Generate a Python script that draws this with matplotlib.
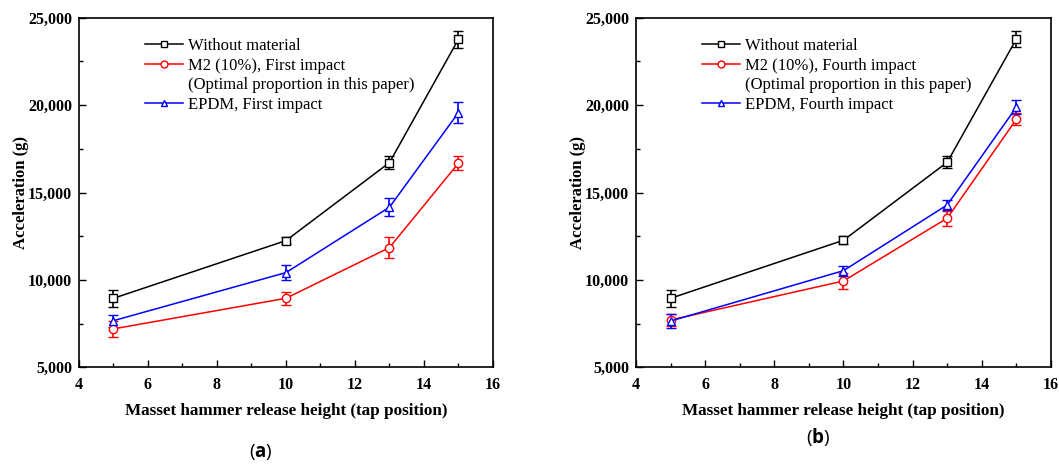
import matplotlib
matplotlib.use("Agg")
import matplotlib.pyplot as plt
from matplotlib.lines import Line2D
from matplotlib.ticker import MultipleLocator, FuncFormatter

plt.rcParams["mathtext.fontset"] = "custom"
plt.rcParams["mathtext.rm"] = "Open Sans"
plt.rcParams["mathtext.bf"] = "Open Sans:bold"

heights = [5, 10, 13, 15]

# Panel (a)
a_without = [8950, 12250, 16710, 23770]
a_without_err = [500, 220, 350, 480]
a_m2 = [7200, 8950, 11850, 16680]
a_m2_err = [440, 380, 590, 400]
a_epdm = [7670, 10420, 14160, 19570]
a_epdm_err = [350, 410, 530, 590]

# Panel (b)
b_without = [8950, 12270, 16730, 23780]
b_without_err = [500, 220, 350, 480]
b_m2 = [7710, 9940, 13530, 19190]
b_m2_err = [350, 460, 430, 330]
b_epdm = [7650, 10530, 14290, 19880]
b_epdm_err = [380, 290, 300, 410]

labels_a = ["Without material", "M2 (10%), First impact",
            "(Optimal proportion in this paper)", "EPDM, First impact"]
labels_b = ["Without material", "M2 (10%), Fourth impact",
            "(Optimal proportion in this paper)", "EPDM, Fourth impact"]

serif = "Liberation Serif"
fig = plt.figure(figsize=(10.59, 4.65), dpi=100)
axes = [fig.add_axes([0.0746, 0.210, 0.3909, 0.752]),
        fig.add_axes([0.6006, 0.210, 0.3918, 0.752])]

panels = [
    (a_without, a_without_err, a_m2, a_m2_err, a_epdm, a_epdm_err, labels_a, r"$(\mathbf{a})$", 0.246, 0.028),
    (b_without, b_without_err, b_m2, b_m2_err, b_epdm, b_epdm_err, labels_b, r"$(\mathbf{b})$", 0.773, 0.060),
]

for ax, (w, we, m, me, e, ee, labs, tag, tx, ty) in zip(axes, panels):
    specs = [(w, we, "black", "s"), (m, me, "red", "o"), (e, ee, "blue", "^")]
    for vals, errs, col, mk in specs:
        ax.errorbar(heights, vals, yerr=errs, color=col, marker=mk, markersize=6,
                    markerfacecolor="white", markeredgecolor=col, markeredgewidth=1.0,
                    linewidth=1.1, elinewidth=1.2, capsize=3.5, capthick=1.2)
    ax.set_xlim(4, 16)
    ax.set_ylim(5000, 25000)
    ax.xaxis.set_major_locator(MultipleLocator(2))
    ax.xaxis.set_minor_locator(MultipleLocator(1))
    ax.yaxis.set_major_locator(MultipleLocator(5000))
    ax.yaxis.set_minor_locator(MultipleLocator(2500))
    ax.yaxis.set_major_formatter(FuncFormatter(lambda v, p: f"{int(v):,}"))
    ax.tick_params(which="both", direction="in", top=False, right=False)
    ax.tick_params(which="major", length=5, width=1.0, labelsize=11.5)
    ax.tick_params(which="minor", length=3, width=1.0)
    ax.tick_params(axis="x", which="major", pad=7)
    ax.tick_params(axis="y", which="major", pad=5)
    for lbl in ax.get_xticklabels() + ax.get_yticklabels():
        lbl.set_fontfamily(serif)
        lbl.set_fontweight("bold")
    for sp in ax.spines.values():
        sp.set_linewidth(1.2)
    ax.set_xlabel("Masset hammer release height (tap position)", fontfamily=serif,
                  fontweight="bold", fontsize=12.3, labelpad=7)
    ax.set_ylabel("Acceleration (g)", fontfamily=serif, fontweight="bold",
                  fontsize=12, labelpad=-1)
    handles = [
        Line2D([], [], color="black", marker="s", markerfacecolor="white", markersize=5, linewidth=1.1),
        Line2D([], [], color="red", marker="o", markerfacecolor="white", markersize=5, linewidth=1.1),
        Line2D([], [], color="none", marker=None, linewidth=0),
        Line2D([], [], color="blue", marker="^", markerfacecolor="white", markersize=5, linewidth=1.1),
    ]
    ax.legend(handles, labs, loc="upper left", bbox_to_anchor=(0.135, 0.97),
              frameon=False, prop={"family": serif, "size": 12},
              handlelength=2.3, handletextpad=0.3, labelspacing=0.22,
              borderaxespad=0.2)
    fig.text(tx, ty, tag, fontsize=13.5, ha="center", va="center")

fig.savefig("out.png", dpi=100)
